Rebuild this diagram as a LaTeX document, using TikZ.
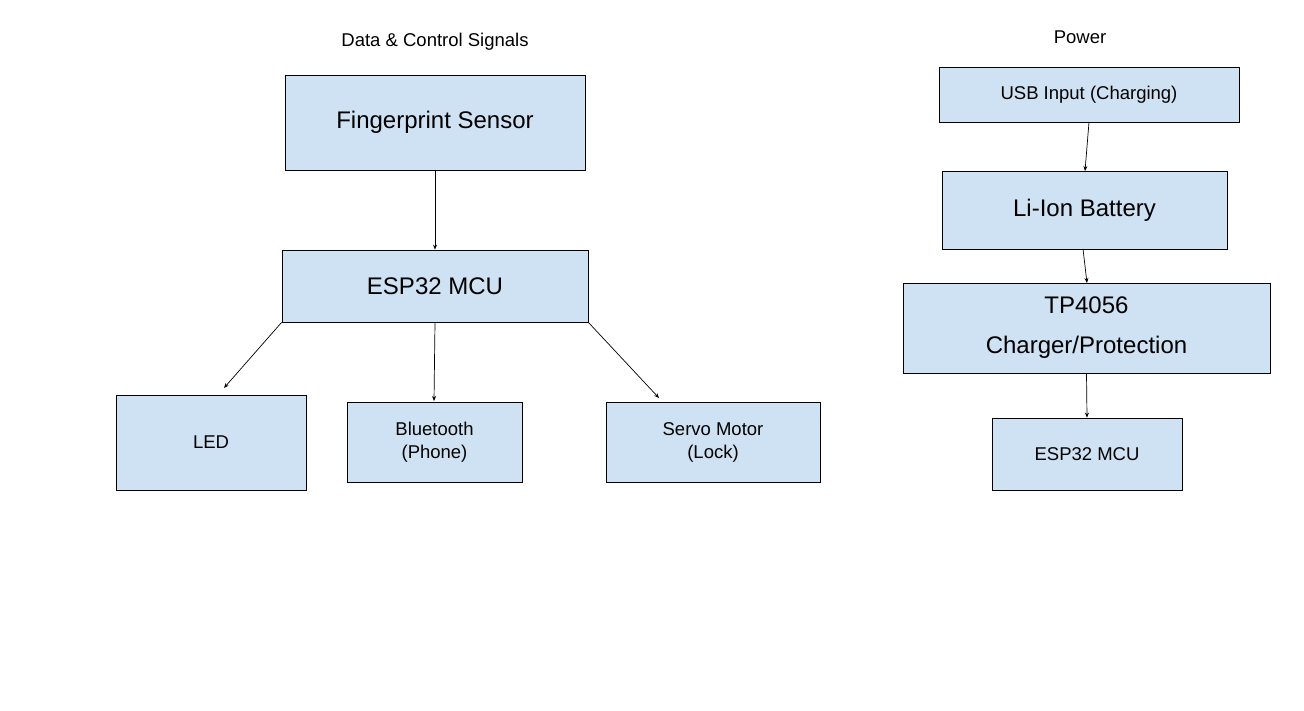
\documentclass[tikz,border=0pt]{standalone}
\usepackage{fontspec}
\setmainfont{Liberation Sans}
\usetikzlibrary{arrows.meta}
\definecolor{boxfill}{HTML}{CFE2F3}
\begin{document}
\begin{tikzpicture}[x=1pt,y=-1pt,
  box/.style={draw=black,fill=boxfill,line width=0.8pt,inner sep=0pt,align=center},
  big/.style={font=\fontsize{24}{30}\selectfont},
  small/.style={font=\fontsize{18.5}{23}\selectfont},
  conn/.style={line width=0.7pt,-{Stealth[length=5pt,width=4pt]}}]
\useasboundingbox (0,0) rectangle (1304,711);
\newcommand{\bx}[6]{\node[box,#6,minimum width={#4-#2},minimum height={#5-#3}] (#1) at ({(#2+#4)/2},{(#3+#5)/2}) {};}
\node[small,font=\fontsize{18.5}{23}\selectfont] (t1) at (435,42) {Data \& Control Signals};
\node[small] (t2) at (1080,37) {Power};
\node[box,big,minimum width=300,minimum height=95] (fp) at (435,122.5) {Fingerprint Sensor};
\node[box,big,minimum width=306,minimum height=72] (esp) at (435,286) {ESP32 MCU};
\node[box,small,minimum width=190,minimum height=95] (led) at (211,442.5) {LED};
\node[box,small,minimum width=175,minimum height=80] (bt) at (434.5,442) {Bluetooth\\(Phone)};
\node[box,small,minimum width=214,minimum height=80] (servo) at (713,442) {Servo Motor\\(Lock)};
\node[box,small,minimum width=300,minimum height=55] (usb) at (1089,94.5) {USB Input (Charging)};
\node[box,big,minimum width=285,minimum height=78] (bat) at (1084.5,210) {Li-Ion Battery};
\node[box,big,minimum width=367,minimum height=90,font=\fontsize{24}{40}\selectfont] (tp) at (1086.5,328) {TP4056\\Charger/Protection};
\node[box,small,minimum width=190,minimum height=72] (esp2) at (1087,454) {ESP32 MCU};
\coordinate (a1) at (224,388);
\coordinate (a2) at (659,398);
\coordinate (a3) at (1089,122);
\coordinate (a4) at (1085,171);
\coordinate (a5) at (1083,249);
\coordinate (a6) at (1087,283);
\coordinate (a7) at (434,401);
\draw[conn] (fp.south) -- (esp.north);
\draw[conn] (esp.south west) -- (a1);
\draw[conn] (esp.south) -- (a7);
\draw[conn] (esp.south east) -- (a2);
\draw[conn] (a3) -- (a4);
\draw[conn] (a5) -- (a6);
\draw[conn] (tp.south) -- (esp2.north);
\end{tikzpicture}
\end{document}
